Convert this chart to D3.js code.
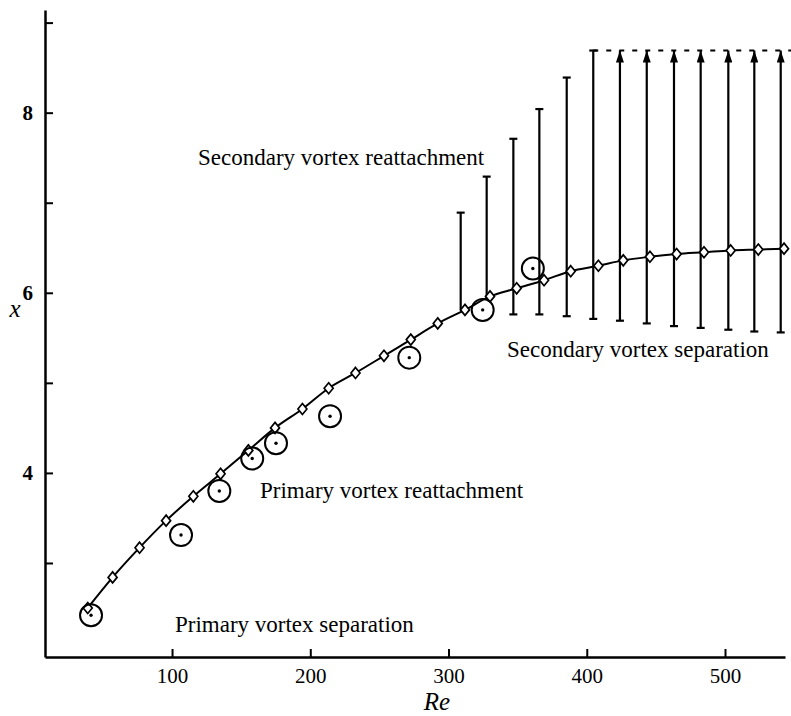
<!DOCTYPE html>
<html>
<head>
<meta charset="utf-8">
<script src="https://cdn.jsdelivr.net/npm/d3@7"></script>
<style>
  body { margin: 0; background: #fff; }
  text { font-family: "Liberation Serif", "DejaVu Serif", serif; fill: #000; }
</style>
</head>
<body>
<div id="chart"></div>
<script>
// numerical solution (diamonds joined by the curve)
const reNum = [39, 57, 76.5, 95.7, 115.4, 135.1, 155.2, 174.5, 194.3, 213.3, 232.7, 253.3, 272.7,
  292.2, 311.9, 330, 349.3, 369.1, 388.4, 408.4, 426.4, 445.7, 465, 484.8, 504.1, 524.1, 542.7];
const xNum = [2.5, 2.84, 3.17, 3.47, 3.74, 3.99, 4.25, 4.5, 4.71, 4.94, 5.11, 5.3, 5.48,
  5.66, 5.81, 5.96, 6.05, 6.14, 6.24, 6.3, 6.36, 6.4, 6.43, 6.45, 6.47, 6.48, 6.49];

// experiments (circled dots)
const reExp = [41.4, 106.5, 134.2, 158, 175.2, 214.3, 271.6, 324.7, 361];
const xExp = [2.42, 3.31, 3.8, 4.16, 4.33, 4.63, 5.28, 5.81, 6.27];

// secondary vortex range
const reBar = [308.8, 327.6, 346.9, 365.7, 385.5, 404.7, 424, 443.4, 463.1, 482.4, 502.4, 521.2, 540.3];
const barLo = [5.81, 5.93, 5.76, 5.76, 5.74, 5.71, 5.69, 5.66, 5.63, 5.61, 5.59, 5.57, 5.56];
const barHi = [6.89, 7.29, 7.71, 8.04, 8.39, 8.69, 8.69, 8.69, 8.69, 8.69, 8.69, 8.69, 8.69];
const barArrow = [false, false, false, false, false, false, true, true, true, true, true, true, true];
const barLoCap = [false, false, true, true, true, true, true, true, true, true, true, true, true];

const xTicks = [100, 200, 300, 400, 500];
const yTicks = [3, 4, 5, 6, 7, 8, 9];
const yLabelTicks = [4, 6, 8];

const labels = [
  { text: 'Secondary vortex reattachment', re: 118.8, v: 7.42 },
  { text: 'Secondary vortex separation', re: 342.3, v: 5.29 },
  { text: 'Primary vortex reattachment', re: 163.6, v: 3.72 },
  { text: 'Primary vortex separation', re: 102.1, v: 2.233 }
];

const width = 791, height = 716;
const x = d3.scaleLinear().domain([8.1, 543.4]).range([45, 785]);
const y = d3.scaleLinear().domain([1.956, 9.14]).range([657, 10]);

const svg = d3.select('#chart').append('svg')
  .attr('width', width)
  .attr('height', height);

svg.append('defs').append('marker')
  .attr('id', 'arrow')
  .attr('viewBox', '0 0 12 8')
  .attr('refX', 12).attr('refY', 4)
  .attr('markerUnits', 'userSpaceOnUse')
  .attr('markerWidth', 12).attr('markerHeight', 8)
  .attr('orient', 'auto')
  .append('path')
    .attr('d', 'M0,0 L12,4 L0,8 Z')
    .attr('fill', '#000');

// axes
const xAxis = d3.axisBottom(x).tickValues(xTicks).tickSize(-8).tickPadding(11).tickSizeOuter(0);
const gx = svg.append('g').attr('transform', `translate(0,${y.range()[0]})`).call(xAxis);
gx.select('.domain').attr('stroke-width', 2.5);
gx.selectAll('.tick line').attr('stroke-width', 2);
gx.selectAll('.tick text').style('font-size', '21px').attr('font-family', null);

const yAxis = d3.axisLeft(y).tickValues(yTicks).tickSize(-8).tickPadding(12).tickSizeOuter(0)
  .tickFormat(d => yLabelTicks.includes(d) ? d : '');
const gy = svg.append('g').attr('transform', `translate(${x.range()[0]},0)`).call(yAxis);
gy.select('.domain').attr('stroke-width', 2.5);
gy.selectAll('.tick line').attr('stroke-width', 2);
gy.selectAll('.tick text').style('font-size', '21px').style('font-weight', 'bold').attr('font-family', null);

svg.append('text')
  .attr('x', 15).attr('y', 317)
  .attr('text-anchor', 'middle')
  .style('font-size', '25px').style('font-style', 'italic')
  .text('x');

svg.append('text')
  .attr('x', 437).attr('y', 710)
  .attr('text-anchor', 'middle')
  .style('font-size', '25px').style('font-style', 'italic')
  .text('Re');

// vertical bars for the secondary vortex
const bars = svg.append('g').attr('stroke', '#000').attr('stroke-width', 2.2);
reBar.forEach((re, i) => {
  const bx = x(re);
  bars.append('line')
    .attr('x1', bx).attr('x2', bx)
    .attr('y1', y(barLo[i])).attr('y2', y(barHi[i]))
    .attr('marker-end', barArrow[i] ? 'url(#arrow)' : null);
  if (!barArrow[i]) {
    bars.append('line')
      .attr('x1', bx - 4).attr('x2', bx + 4)
      .attr('y1', y(barHi[i])).attr('y2', y(barHi[i]));
  }
  if (barLoCap[i]) {
    bars.append('line')
      .attr('x1', bx - 4).attr('x2', bx + 4)
      .attr('y1', y(barLo[i])).attr('y2', y(barLo[i]));
  }
});

// dashed upper bound
const lastCapped = barArrow.indexOf(true) - 1;
svg.append('line')
  .attr('x1', x(reBar[lastCapped])).attr('x2', width)
  .attr('y1', y(barHi[lastCapped])).attr('y2', y(barHi[lastCapped]))
  .attr('stroke', '#000').attr('stroke-width', 2)
  .attr('stroke-dasharray', '5,8');

// numerical curve
const line = d3.line()
  .x((d, i) => x(reNum[i]))
  .y(d => y(d))
  .curve(d3.curveMonotoneX);

svg.append('path')
  .datum(xNum)
  .attr('d', line)
  .attr('fill', 'none')
  .attr('stroke', '#000')
  .attr('stroke-width', 2);

svg.append('g').selectAll('path.diamond')
  .data(xNum)
  .enter().append('path')
    .attr('class', 'diamond')
    .attr('d', (d, i) => {
      const cx = x(reNum[i]), cy = y(d);
      return `M${cx},${cy - 5.5}L${cx + 4.5},${cy}L${cx},${cy + 5.5}L${cx - 4.5},${cy}Z`;
    })
    .attr('fill', '#fff')
    .attr('stroke', '#000')
    .attr('stroke-width', 1.7);

// experimental points
const exp = svg.append('g');
exp.selectAll('circle.ring')
  .data(xExp)
  .enter().append('circle')
    .attr('class', 'ring')
    .attr('cx', (d, i) => x(reExp[i]))
    .attr('cy', d => y(d))
    .attr('r', 11)
    .attr('fill', 'none')
    .attr('stroke', '#000')
    .attr('stroke-width', 2);
exp.selectAll('circle.dot')
  .data(xExp)
  .enter().append('circle')
    .attr('class', 'dot')
    .attr('cx', (d, i) => x(reExp[i]))
    .attr('cy', d => y(d))
    .attr('r', 1.7)
    .attr('fill', '#000');

// annotations
svg.append('g').selectAll('text')
  .data(labels)
  .enter().append('text')
    .attr('x', d => x(d.re))
    .attr('y', d => y(d.v))
    .style('font-size', '23px')
    .text(d => d.text);
</script>
</body>
</html>
